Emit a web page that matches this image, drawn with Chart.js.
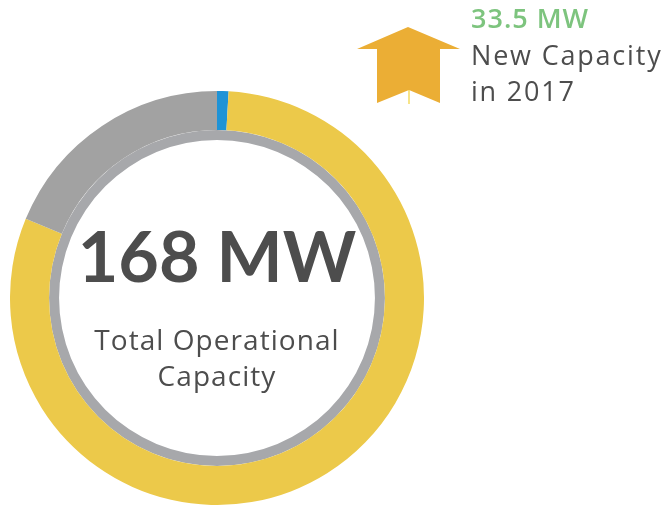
<!DOCTYPE html>
<html>
<head>
<meta charset="utf-8">
<script src="https://cdn.jsdelivr.net/npm/chart.js@4"></script>
<style>
  html, body { margin: 0; padding: 0; background: #ffffff; width: 667px; height: 505px; overflow: hidden; position: relative; font-family: Lato, "Open Sans", sans-serif; }
  #wrap { position: absolute; left: 10px; top: 91px; width: 414px; height: 414px; }
  .big { position: absolute; left: 17px; width: 400px; top: 213px; text-align: center; font-size: 70px; line-height: 85px; font-weight: 700; color: #4d4d4d; white-space: nowrap; }
  .sub { position: absolute; left: 17px; width: 400px; top: 321px; text-align: center; font-family: "Open Sans", Lato, sans-serif; font-size: 28px; line-height: 36px; letter-spacing: 1.05px; color: #4d4d4d; }
  .side { position: absolute; left: 471px; top: 0px; font-family: "Open Sans", Lato, sans-serif; font-size: 27px; line-height: 36.5px; letter-spacing: 1.8px; color: #4d4d4d; white-space: nowrap; }
  .side .green { color: #7dc47e; font-weight: 600; letter-spacing: 1px; }
  svg { position: absolute; left: 0; top: 0; }
</style>
</head>
<body>
<div id="wrap"><canvas id="c"></canvas></div>
<div class="big" id="bigText"></div>
<div class="sub" id="subText"></div>
<svg width="667" height="120">
  <polygon points="408,27 460,49 440,49 440,103 409,90 377,103 377,49 357,49" fill="#ebae35"/>
  <line x1="409" y1="90" x2="409" y2="104" stroke="#f2d23a" stroke-width="1.2"/>
</svg>
<div class="side" id="side"></div>
<script>
// ---- data ----
const categories = ['Other', 'Operational', 'Additional'];
const capacityMW = [1.5, 135, 31.5];
const segmentColors = ['#1f93d6', '#ecc94a', '#a2a2a2'];
const totalMW = [168];
const totalColors = ['#a7a8ab'];
const centerLabel = ['168 MW'];
const centerCaption = ['Total Operational', 'Capacity'];
const newCapacityLabel = ['33.5 MW', 'New Capacity', 'in 2017'];

document.getElementById('bigText').textContent = centerLabel[0];
document.getElementById('subText').innerHTML = centerCaption.join('<br>');
document.getElementById('side').innerHTML =
  '<span class="green">' + newCapacityLabel[0] + '</span><br>' + newCapacityLabel[1] + '<br>' + newCapacityLabel[2];

new Chart(document.getElementById('c'), {
  type: 'doughnut',
  data: {
    labels: categories,
    datasets: [
      { data: capacityMW, backgroundColor: segmentColors, borderWidth: 0, weight: 39 },
      { data: totalMW, backgroundColor: totalColors, borderWidth: 0, weight: 10 }
    ]
  },
  options: {
    responsive: true,
    maintainAspectRatio: false,
    animation: false,
    events: [],
    cutout: '76.3%',
    layout: { padding: 0 },
    plugins: { legend: { display: false }, tooltip: { enabled: false } }
  }
});
</script>
</body>
</html>
